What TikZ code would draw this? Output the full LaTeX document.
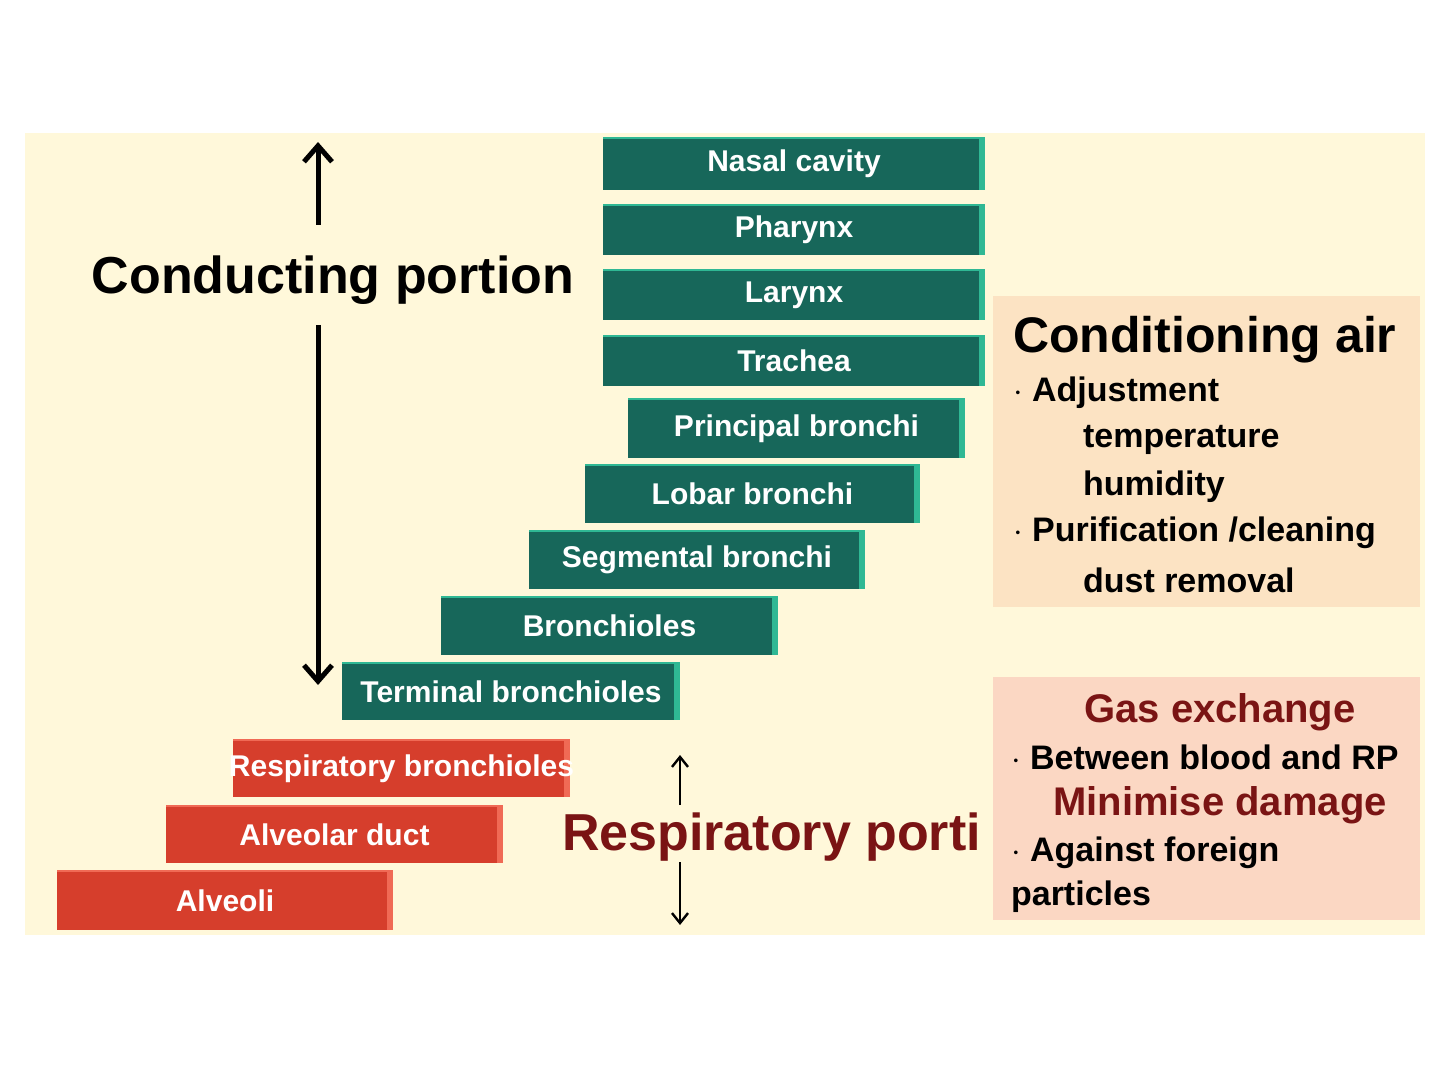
\documentclass[tikz,border=0pt]{standalone}
\usepackage{fontspec}
\setmainfont{Liberation Sans}
\usetikzlibrary{arrows.meta}
\begin{document}
\begin{tikzpicture}[x=0.5pt,y=-0.5pt,
 lab/.style={text=white,font=\bfseries\fontsize{15}{17}\selectfont},
 arr/.style={line width=2.5pt,-{Straight Barb[length=8pt,width=14pt]}}]
\definecolor{cream}{HTML}{FFF8DA}
\definecolor{gr}{HTML}{17675A}
\definecolor{grl}{HTML}{2FB894}
\definecolor{rd}{HTML}{D63E2C}
\definecolor{rdl}{HTML}{F06A55}
\definecolor{peach}{HTML}{FCE3C3}
\definecolor{pink}{HTML}{FBD7C3}
\definecolor{maroon}{HTML}{7A1414}
\useasboundingbox (0,0) rectangle (1440,1080);
\fill[cream] (25,133) rectangle (1425,935);
\fill[peach] (993,296) rectangle (1420,607);
\fill[pink] (993,677) rectangle (1420,920);
\newcommand\stepbox[6]{%
 \fill[#5] (#1,#2) rectangle (#3,#4);
 \fill[#6] (#3-6,#2) rectangle (#3,#4);
 \draw[#6,line width=1pt] (#1,#2) -- (#3,#2);}
\foreach \l/\t/\r/\b/\n/\s in {603/138/985/190/a/Nasal cavity,603/205/985/255/b/Pharynx,603/270/985/320/c/Larynx,603/336/985/386/d/Trachea,628/399/965/458/e/Principal bronchi,585/465/920/523/f/Lobar bronchi,529/531/865/589/g/Segmental bronchi,441/597/778/655/h/Bronchioles,342/663/680/720/i/Terminal bronchioles}{
 \stepbox{\l}{\t}{\r}{\b}{gr}{grl}
 \node[lab] (\n) at ({(\l+\r)/2},{(\t+\b)/2}) {\s};}
\foreach \l/\t/\r/\b/\n/\s in {233/740/570/797/j/Respiratory bronchioles,166/806/503/863/k/Alveolar duct,57/871/393/930/l/Alveoli}{
 \stepbox{\l}{\t}{\r}{\b}{rd}{rdl}
 \node[lab] (\n) at ({(\l+\r)/2},{(\t+\b)/2}) {\s};}
\node[font=\bfseries\fontsize{26}{30}\selectfont] (cp) at (333,280) {Conducting portion};
\coordinate (u1) at (318,225); \coordinate (u2) at (318,142);
\coordinate (d1) at (318,325); \coordinate (d2) at (318,685);
\draw[arr] (u1) -- (u2);
\draw[arr] (d1) -- (d2);
\node[font=\bfseries\fontsize{26}{30}\selectfont,text=maroon,anchor=west] (rp) at (555,837) {Respiratory porti};
\coordinate (r1) at (680,805); \coordinate (r2) at (680,755);
\coordinate (r3) at (680,862); \coordinate (r4) at (680,925);
\draw[line width=1.2pt,-{Straight Barb[length=5pt,width=8pt]}] (r1) -- (r2);
\draw[line width=1.2pt,-{Straight Barb[length=5pt,width=8pt]}] (r3) -- (r4);
\begin{scope}[every node/.style={anchor=west,font=\bfseries\fontsize{17}{20}\selectfont}]
\node[font=\bfseries\fontsize{25}{30}\selectfont] (ca) at (1006,340) {Conditioning air};
\node (c1) at (1006,393) {$\cdot$ Adjustment};
\node (c2) at (1076,440) {temperature};
\node (c3) at (1076,487) {humidity};
\node (c4) at (1006,533) {$\cdot$ Purification /cleaning};
\node (c5) at (1076,580) {dust removal};
\node[anchor=center,text=maroon,font=\bfseries\fontsize{20}{24}\selectfont] (ge) at (1220,712) {Gas exchange};
\node (g1) at (1004,757) {$\cdot$ Between blood and RP};
\node[anchor=center,text=maroon,font=\bfseries\fontsize{20}{24}\selectfont] (md) at (1220,805) {Minimise damage};
\node (g2) at (1004,853) {$\cdot$ Against foreign};
\node (g3) at (1004,897) {particles};
\end{scope}
\end{tikzpicture}
\end{document}
